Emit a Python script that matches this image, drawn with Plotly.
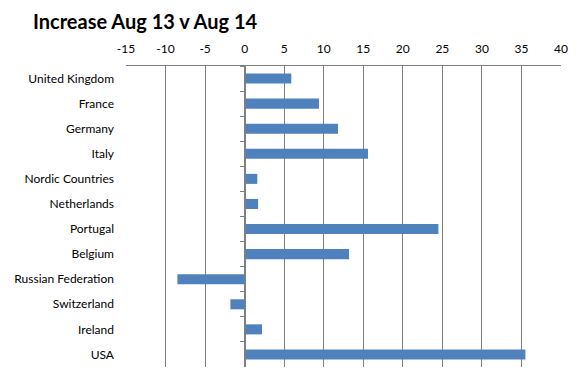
import plotly.graph_objects as go

categories = ["United Kingdom", "France", "Germany", "Italy", "Nordic Countries",
              "Netherlands", "Portugal", "Belgium", "Russian Federation",
              "Switzerland", "Ireland", "USA"]
values = [5.9, 9.4, 11.8, 15.6, 1.6, 1.7, 24.5, 13.2, -8.5, -1.8, 2.2, 35.5]
x_ticks = list(range(-15, 41, 5))
x_tick_labels = [str(v) for v in x_ticks]

FONT = "Lato"
GRID = "#808080"
OFF = 8  # default page body margin

fig = go.Figure()
fig.add_trace(go.Bar(y=categories, x=values, orientation="h",
                     marker=dict(color="#4F81BD", line=dict(width=0)),
                     width=0.4, showlegend=False, hoverinfo="x+y"))
# helper invisible trace for the axis drawn at zero
fig.add_trace(go.Scatter(y=categories, x=[0] * len(categories), yaxis="y2",
                         mode="markers", marker=dict(opacity=0),
                         showlegend=False, hoverinfo="skip"))

xmin, xmax = x_ticks[0], x_ticks[-1]
n = len(categories)
W, H = 581, 376
fig.update_layout(
    width=W, height=H,
    margin=dict(l=126 - OFF, r=W - (561 - OFF), t=66 - OFF, b=H - (367 - OFF), autoexpand=False),
    paper_bgcolor="white", plot_bgcolor="white",
    font=dict(family=FONT, size=12, color="black"),
    title=dict(text="<b>Increase Aug 13 v Aug 14</b>", font=dict(family=FONT, size=20, color="black"),
               xref="container", yref="container", x=(33 - OFF) / W, xanchor="left",
               y=1 - (22 - OFF) / H, yanchor="middle", pad=dict(l=0, r=0, t=0, b=0)),
    xaxis=dict(side="top", range=[xmin, xmax], tickvals=x_ticks, ticktext=x_tick_labels,
               showgrid=True, automargin=False, ticklabelstandoff=7,
               gridcolor=GRID, gridwidth=1, zeroline=False, showline=True,
               linecolor=GRID, linewidth=1, ticks="", ticklen=0,
               tickfont=dict(family=FONT, size=12, color="black"), fixedrange=True),
    yaxis=dict(categoryorder="array", categoryarray=categories, automargin=False,
               range=[n - 0.5, -0.5], showgrid=False, zeroline=False,
               showline=False, ticks="", ticklabelstandoff=11,
               tickfont=dict(family=FONT, size=12, color="black")),
    yaxis2=dict(overlaying="y", anchor="free", position=(0 - xmin) / (xmax - xmin),
                categoryorder="array", categoryarray=categories, automargin=False,
                range=[n - 0.5, -0.5], showgrid=False, zeroline=False,
                showline=True, linecolor=GRID, linewidth=1, ticks="outside",
                tickson="boundaries", ticklen=5, tickcolor=GRID, tickwidth=1,
                showticklabels=False, side="left"),
)

fig.write_html("out.html")
